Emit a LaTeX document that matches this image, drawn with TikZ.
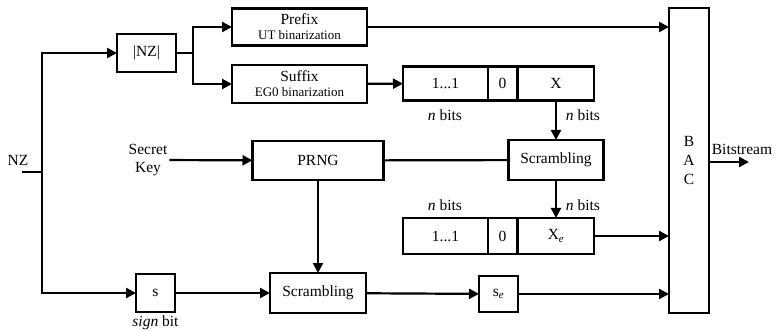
\documentclass[tikz,border=0pt]{standalone}
\usepackage{fontspec}
\setmainfont{Liberation Serif}
\usetikzlibrary{arrows.meta}

\begin{document}
\begin{tikzpicture}[x=1pt,y=-1pt,line width=2.2pt,
  >={Triangle[length=10pt,width=10pt]},
  font=\fontsize{15.5}{18}\selectfont,
  blk/.style={draw,inner sep=0pt,outer sep=0pt,align=center},
  lbl/.style={inner sep=1pt,align=center},
  small/.style={font=\fontsize{13}{15}\selectfont}]
  \useasboundingbox (0,0) rectangle (779,331);
  % input and split
  \node[lbl] (nz) at (18,160) {NZ};
  \coordinate (nzin) at (22,172);
  \coordinate (split) at (42,172);
  \node[blk,minimum width=59pt,minimum height=38pt] (absnz) at (146.5,53) {|NZ|};
  \coordinate (fork) at (193,53);
  \node[blk,minimum width=135pt,minimum height=37pt] (prefix) at (299.5,27)
    {Prefix\\[-3pt]{\fontsize{13}{15}\selectfont UT binarization}};
  \node[blk,minimum width=135pt,minimum height=38pt] (suffix) at (299.5,84)
    {Suffix\\[-3pt]{\fontsize{13}{15}\selectfont EG0 binarization}};
  % code word rows
  \node[blk,minimum width=85pt,minimum height=34pt] (onestop) at (445.5,83.5) {1...1};
  \node[blk,minimum width=29pt,minimum height=34pt] (zerotop) at (502.5,83.5) {0};
  \node[blk,minimum width=76pt,minimum height=34pt] (xtop) at (556,83.5) {X};
  \node[lbl] (nleft1) at (445,115) {\textit{n} bits};
  \node[lbl] (nright1) at (583,115) {\textit{n} bits};
  \node[blk,minimum width=95pt,minimum height=40pt] (scrup) at (556,160) {Scrambling};
  \node[lbl] (nleft2) at (445,205) {\textit{n} bits};
  \node[lbl] (nright2) at (583,205) {\textit{n} bits};
  \node[blk,minimum width=85pt,minimum height=36pt] (onesbot) at (445.5,236) {1...1};
  \node[blk,minimum width=29pt,minimum height=36pt] (zerobot) at (502.5,236) {0};
  \node[blk,minimum width=76pt,minimum height=36pt] (xbot) at (556,236) {X\textsubscript{\itshape e}};
  % key and PRNG
  \node[lbl] (key) at (148,160) {Secret\\Key};
  \node[blk,minimum width=131pt,minimum height=39pt] (prng) at (318,160.5) {PRNG};
  % sign path
  \node[blk,minimum width=39pt,minimum height=38pt] (s) at (155.5,293) {s};
  \node[lbl] (signlbl) at (155.5,323) {\textit{sign} bit};
  \node[blk,minimum width=96pt,minimum height=40pt] (scrlow) at (318,293) {Scrambling};
  \node[blk,minimum width=39pt,minimum height=36pt] (se) at (498.5,294) {s\textsubscript{\itshape e}};
  % arithmetic coder
  \node[blk,minimum width=40pt,minimum height=305pt] (bac) at (689,160.5) {};
  \node[lbl,font=\fontsize{15.5}{19}\selectfont] (bactxt) at (689,161) {B\\A\\C};
  \coordinate (out) at (749,162);
  \node[lbl,anchor=south] (bits) at (742,157) {Bitstream};
  % connectors
  \draw (nzin) -- (split);
  \draw[->] (split) |- (absnz);
  \draw[->] (split) |- (s);
  \draw (absnz) -- (fork);
  \draw[->] (fork) |- (prefix);
  \draw[->] (fork) |- (suffix);
  \draw[->] (prefix) -- (prefix -| bac.west);
  \draw[->] (suffix) -- (onestop);
  \draw[->] (xtop) -- (scrup);
  \draw[->] (key) -- (prng);
  \draw (prng) -- (scrup);
  \draw[->] (scrup) -- (xbot);
  \draw[->] (xbot) -- (xbot -| bac.west);
  \draw[->] (prng) -- (scrlow);
  \draw[->] (s) -- (scrlow);
  \draw[->] (scrlow) -- (se);
  \draw[->] (se) -- (se -| bac.west);
  \draw[->] (bac.east |- out) -- (out);
\end{tikzpicture}
\end{document}
